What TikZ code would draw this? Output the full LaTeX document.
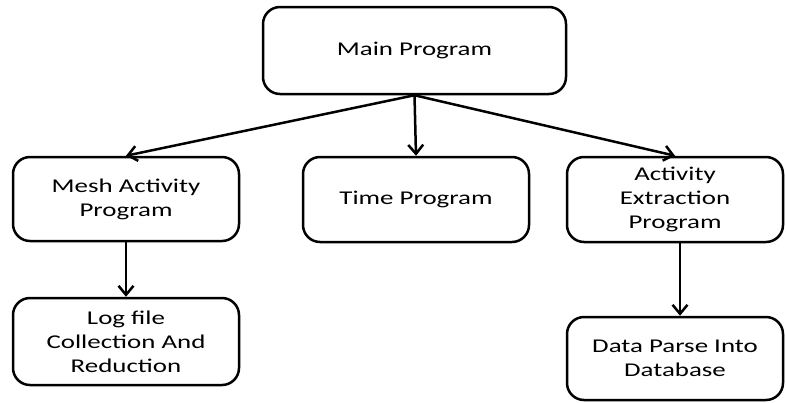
\documentclass[tikz,border=0pt]{standalone}
\usepackage{fontspec}
\setmainfont{Carlito}[FakeStretch=1.38]
\usetikzlibrary{arrows.meta}
\begin{document}
\begin{tikzpicture}[x=1pt,y=-1pt,
  box/.style={draw=black, line width=2.5pt, rounded corners=17pt, fill=white,
    inner sep=0pt, align=center, font=\fontsize{19.5}{24}\selectfont},
  arr/.style={line width=2.5pt, -{Straight Barb[length=9pt,width=15pt,line width=2.5pt]}}]
\useasboundingbox (0,0) rectangle (786,402);
\fill[white] (0,0) rectangle (786,402);
\node[box, minimum width=303pt, minimum height=87pt] (main) at (414.5,50.5) {Main Program};
\node[box, minimum width=226pt, minimum height=84pt] (mesh) at (126,199) {Mesh Activity\\Program};
\node[box, minimum width=226pt, minimum height=85pt] (time) at (416,199.5) {Time Program};
\node[box, minimum width=216pt, minimum height=85pt] (act) at (675,199.5) {Activity\\Extraction\\Program};
\node[box, minimum width=226pt, minimum height=87pt] (log) at (126,341.5) {Log file\\Collection And\\Reduction};
\node[box, minimum width=216pt, minimum height=83pt] (data) at (675,358.5) {Data Parse Into\\Database};
\draw[arr] (main.south) -- (mesh.north);
\draw[arr] (main.south) -- (time.north);
\draw[arr] (main.south) -- (act.north);
\draw[arr] (mesh.south) -- (log.north);
\draw[arr] ([xshift=5pt]act.south) -- ([xshift=5pt]data.north);
\end{tikzpicture}
\end{document}
